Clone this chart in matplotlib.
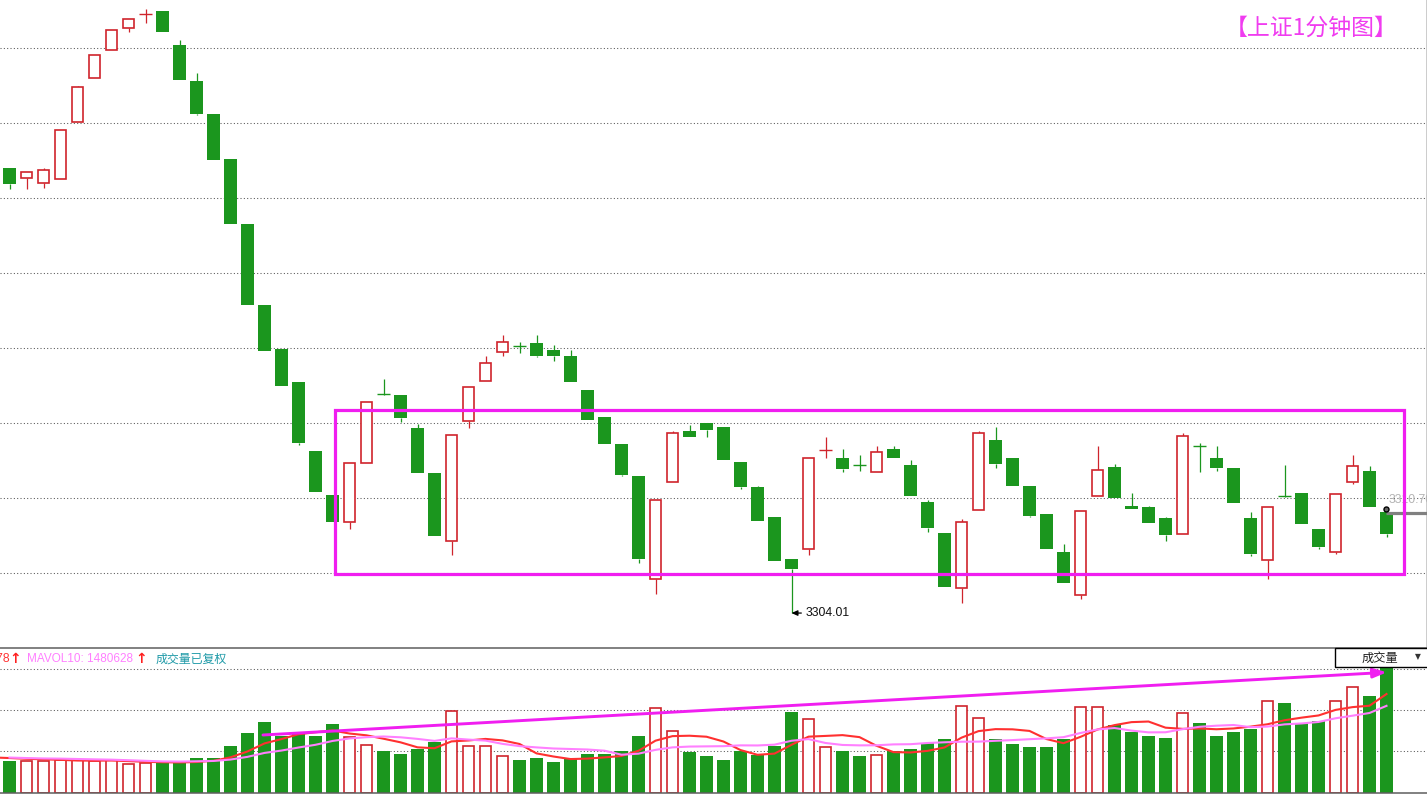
import matplotlib
matplotlib.use('Agg')
import matplotlib.pyplot as plt
import numpy as np
import pandas as pd
from matplotlib.patches import Rectangle

# ---------------- data ----------------
opens = [
    3333.68, 3333.01, 3332.68, 3332.95, 3336.75, 3339.68, 3341.55, 3343.01, 3343.95, 3344.15,
    3341.88, 3339.48, 3337.28, 3334.28, 3329.95, 3324.55, 3321.61, 3319.41, 3314.81, 3311.88,
    3310.08, 3314.01, 3318.61, 3318.55, 3316.35, 3313.35, 3308.81, 3316.81, 3319.48, 3321.41,
    3321.81, 3322.01, 3321.55, 3321.15, 3318.88, 3317.08, 3315.28, 3313.15, 3306.28, 3312.75,
    3316.15, 3316.68, 3316.41, 3314.08, 3312.41, 3310.41, 3307.61, 3308.28, 3314.88, 3314.35,
    3313.88, 3313.41, 3314.95, 3313.88, 3311.41, 3309.35, 3305.68, 3310.88, 3315.55, 3314.35,
    3312.48, 3310.61, 3308.08, 3305.21, 3311.81, 3313.75, 3311.15, 3311.08, 3310.35, 3309.28,
    3315.15, 3314.35, 3313.68, 3310.35, 3307.55, 3311.81, 3312.01, 3309.61, 3308.08, 3312.75,
    3313.48, 3310.75]
highs = [
    3333.68, 3333.41, 3333.68, 3336.21, 3339.15, 3341.21, 3342.88, 3343.61, 3344.28, 3344.15,
    3342.21, 3340.01, 3337.28, 3334.28, 3329.95, 3324.55, 3321.61, 3319.41, 3314.81, 3311.88,
    3314.01, 3318.08, 3319.61, 3318.55, 3316.61, 3313.35, 3315.88, 3319.08, 3321.15, 3322.55,
    3322.08, 3322.55, 3321.88, 3321.55, 3318.88, 3317.08, 3315.28, 3313.15, 3311.55, 3316.15,
    3316.55, 3316.68, 3316.41, 3314.08, 3312.48, 3310.41, 3307.61, 3314.35, 3315.75, 3314.95,
    3314.55, 3315.15, 3315.15, 3314.21, 3311.55, 3309.35, 3310.28, 3316.15, 3316.41, 3314.35,
    3312.48, 3310.61, 3308.61, 3310.81, 3315.15, 3313.95, 3312.01, 3311.15, 3310.41, 3316.01,
    3315.35, 3315.15, 3313.68, 3310.75, 3311.08, 3313.88, 3312.01, 3309.61, 3311.95, 3314.55,
    3313.81, 3310.75]
lows = [
    3332.28, 3332.28, 3332.35, 3332.95, 3336.75, 3339.68, 3341.55, 3342.75, 3343.35, 3342.75,
    3339.55, 3337.21, 3334.21, 3329.95, 3324.55, 3321.48, 3319.15, 3315.21, 3312.08, 3310.08,
    3309.61, 3314.01, 3318.58, 3316.75, 3313.35, 3309.15, 3307.88, 3316.35, 3319.48, 3321.15,
    3321.35, 3321.08, 3320.81, 3319.41, 3316.88, 3315.28, 3313.15, 3307.35, 3305.28, 3312.75,
    3315.75, 3315.75, 3314.21, 3312.28, 3310.15, 3307.48, 3304.01, 3307.88, 3314.35, 3313.41,
    3313.48, 3313.41, 3314.35, 3311.81, 3309.41, 3305.75, 3304.68, 3310.88, 3313.68, 3312.48,
    3310.41, 3308.28, 3306.01, 3304.95, 3311.81, 3311.68, 3310.95, 3310.01, 3308.81, 3309.28,
    3313.41, 3313.48, 3311.35, 3307.81, 3306.28, 3311.78, 3309.95, 3308.28, 3307.95, 3312.61,
    3311.08, 3309.08]
closes = [
    3332.61, 3333.41, 3333.55, 3336.21, 3339.08, 3341.21, 3342.88, 3343.61, 3343.95, 3342.75,
    3339.55, 3337.28, 3334.21, 3329.95, 3324.55, 3321.48, 3319.15, 3315.35, 3312.08, 3310.08,
    3314.01, 3318.08, 3318.59, 3317.01, 3313.35, 3309.15, 3315.88, 3319.08, 3320.68, 3322.08,
    3321.79, 3321.15, 3321.15, 3319.41, 3316.88, 3315.28, 3313.21, 3307.61, 3311.55, 3316.01,
    3315.75, 3316.21, 3314.21, 3312.41, 3310.15, 3307.48, 3306.95, 3314.35, 3314.88, 3313.61,
    3313.86, 3314.75, 3314.35, 3311.81, 3309.68, 3305.75, 3310.08, 3316.01, 3313.95, 3312.48,
    3310.48, 3308.28, 3306.01, 3310.81, 3313.55, 3311.68, 3310.97, 3310.01, 3309.21, 3315.81,
    3315.13, 3313.68, 3311.35, 3307.95, 3311.08, 3311.79, 3309.95, 3308.41, 3311.95, 3313.81,
    3311.08, 3309.28]
volumes = [
    555600, 555400, 545200, 567800, 567500, 545100, 567700, 493600, 510800, 528100,
    527900, 602300, 601800, 808400, 1032000, 1221200, 975200, 1014800, 980400, 1186800,
    958000, 820400, 722400, 670800, 756800, 877200, 1410400, 803200, 803500, 631200,
    567600, 602000, 533200, 584800, 670800, 670500, 722400, 980400, 1456800, 1061200,
    705200, 636400, 567600, 722700, 653600, 808400, 1393200, 1267600, 786000, 722400,
    636400, 648400, 722100, 756800, 860000, 928800, 1491200, 1284800, 928500, 842800,
    791200, 791500, 928800, 1474000, 1473600, 1169600, 1049200, 980400, 946000, 1370800,
    1204000, 980400, 1049200, 1100800, 1577200, 1548000, 1204300, 1238400, 1577000, 1818000,
    1668400, 2211900]
prev_volumes = [640000, 615000, 598000, 632000, 606000, 621000, 590000, 612000, 628000]

price_grid = [3306.68, 3311.68, 3316.68, 3321.68, 3326.68, 3331.68, 3336.68, 3341.68]
vol_grid = [717000, 1422000, 2127000]

title_text = "【上证1分钟图】"
low_label = "3304.01"
last_price = 3310.70
last_price_label = "3310.70"
mavol5_text = "MAVOL5: 1702878"
mavol10_text = "MAVOL10: 1480628"
restored_text = "成交量已复权"
panel_button = "成交量"

# ---------------- layout ----------------
W, H = 1427, 795
PRICE_TOP = 3344.88
PX_PER_POINT = 15.0
VOL_PER_PX = 17200.0
CANDLE_X0 = 9.5
CANDLE_STEP = 17.0

RED = '#cf242c'
GREEN = '#1b961e'
MAGENTA = '#f01ef0'
GRID = '#555555'

fig = plt.figure(figsize=(W / 100, H / 100), dpi=100)
fig.patch.set_facecolor('white')


def fx(px):
    return px / W


def fy(py):
    return 1 - py / H


ax = fig.add_axes([0, fy(648), 1, 648 / H])
axv = fig.add_axes([0, fy(793), 1, 145 / H])

xlim = (-CANDLE_X0 / CANDLE_STEP, (W - CANDLE_X0) / CANDLE_STEP)
for a in (ax, axv):
    a.set_xlim(*xlim)
    a.set_xticks([])
    a.set_yticks([])
    a.set_facecolor('white')
    for s in a.spines.values():
        s.set_visible(False)
ax.set_ylim(PRICE_TOP - 648 / PX_PER_POINT, PRICE_TOP)
axv.set_ylim(0, 145 * VOL_PER_PX)

ax.spines['right'].set_visible(True)
ax.spines['right'].set_color('black')
ax.spines['right'].set_linewidth(1.0)
for side in ('top', 'bottom'):
    axv.spines[side].set_visible(True)
    axv.spines[side].set_color('#5e5e5e')
    axv.spines[side].set_linewidth(1.1)

# grids
for g in price_grid:
    ax.axhline(g, color=GRID, lw=0.75, dashes=(1, 2.2), zorder=0.5)
for g in vol_grid:
    axv.axhline(g, color=GRID, lw=0.75, dashes=(1, 2.2), zorder=0.5)

# candles
for i, (o, h, l, c) in enumerate(zip(opens, highs, lows, closes)):
    up = c >= o
    col = RED if up else GREEN
    top, bot = max(o, c), min(o, c)
    if h > top:
        ax.vlines(i, top, h, colors=col, lw=0.9, zorder=2)
    if l < bot:
        ax.vlines(i, l, bot, colors=col, lw=0.9, zorder=2)
    if top - bot < 0.05:
        ax.hlines(o, i - 0.39, i + 0.39, colors=col, lw=1.0, zorder=3)
    elif up:
        ax.add_patch(Rectangle((i - 0.35, bot), 0.70, top - bot, facecolor='white',
                               edgecolor=RED, lw=1.2, zorder=3))
    else:
        ax.add_patch(Rectangle((i - 0.385, bot), 0.77, top - bot, facecolor=GREEN,
                               edgecolor='none', zorder=3))

# support / range box
box_x0, box_x1 = 19.12, 82.0
box_lo, box_hi = 3306.59, 3317.53
ax.add_patch(Rectangle((box_x0, box_lo), box_x1 - box_x0, box_hi - box_lo, fill=False,
                       edgecolor=MAGENTA, lw=2.3, zorder=6))

# low annotation
low_i = int(np.argmin(lows))
ax.annotate(low_label, xy=(low_i, lows[low_i]), xytext=(14, 0), textcoords='offset pixels',
            ha='left', va='center', fontsize=8.8, family=['Liberation Sans', 'DejaVu Sans'],
            color='#111111',
            arrowprops=dict(arrowstyle='-|>,head_length=0.4,head_width=0.18', color='black',
                            lw=0.9, shrinkA=1, shrinkB=0), zorder=7)

# last price marker
last_x0 = 80.97
ax.hlines(last_price, last_x0, xlim[1], colors='#808080', lw=2.3, zorder=4)
ax.plot([last_x0], [last_price + 0.25], marker='o', ms=3.6, mfc='#666666', mec='black',
        mew=1.0, zorder=5)
ax.text(last_x0 + 0.18, last_price + 0.85, last_price_label, ha='left', va='center',
        fontsize=8.8, color='#b4b4b4', family=['Liberation Sans', 'DejaVu Sans'], zorder=4,
        clip_on=True)

# volume bars
for i, v in enumerate(volumes):
    up = closes[i] >= opens[i]
    if up:
        axv.add_patch(Rectangle((i - 0.35, 0), 0.70, v, facecolor='white', edgecolor=RED,
                                lw=1.2, zorder=2))
    else:
        axv.add_patch(Rectangle((i - 0.385, 0), 0.77, v, facecolor=GREEN, edgecolor='none',
                                zorder=2))

all_vol = pd.Series(prev_volumes + volumes, dtype=float)
xs = np.arange(-len(prev_volumes), len(volumes))
ma5 = all_vol.rolling(5).mean()
ma10 = all_vol.rolling(10).mean()
axv.plot(xs, ma5, color='#ff3030', lw=1.5, zorder=4)
axv.plot(xs, ma10, color='#ff80ff', lw=1.5, zorder=4)

# trend arrow on volume
axv.annotate('', xy=(81.03, 2076000), xytext=(14.91, 997600),
             arrowprops=dict(arrowstyle='-|>,head_length=0.8,head_width=0.28',
                             color=MAGENTA, lw=2.1, mutation_scale=10,
                             shrinkA=0, shrinkB=0), zorder=6)

# title
fig.text(fx(1398), fy(28), title_text, ha='right', va='center', fontsize=16.5,
         color='#f03cf0', family=['Noto Sans CJK SC', 'DejaVu Sans'])

# volume legend
lab_y = fy(659)
fam = ['Liberation Sans', 'Noto Sans CJK SC', 'DejaVu Sans']
fig.text(fx(9.5), lab_y, mavol5_text, ha='right', va='center', fontsize=8.7,
         color='#ff3333', family=fam)
fig.text(fx(15.5), lab_y, '↑', ha='center', va='center', fontsize=10, fontweight='bold',
         color='#ff2020', family=['DejaVu Sans'])
fig.text(fx(27.3), lab_y, mavol10_text, ha='left', va='center', fontsize=8.5,
         color='#ff80ff', family=fam)
fig.text(fx(141.5), lab_y, '↑', ha='center', va='center', fontsize=10, fontweight='bold',
         color='#ff2020', family=['DejaVu Sans'])
fig.text(fx(156), lab_y, restored_text, ha='left', va='center', fontsize=8.6,
         color='#1f9aa8', family=['Noto Sans CJK SC', 'DejaVu Sans'])

# panel selector button
btn = Rectangle((fx(1334.5), fy(667)), fx(1430) - fx(1334.5), fy(648) - fy(667),
                transform=fig.transFigure, facecolor='white', edgecolor='black', lw=1.0,
                zorder=10)
fig.add_artist(btn)
fig.text(fx(1380), fy(658), panel_button, ha='center', va='center', fontsize=8.8,
         color='#222222', family=['Noto Sans CJK SC', 'DejaVu Sans'], zorder=11)
fig.text(fx(1418), fy(657), '▼', ha='center', va='center', fontsize=5.5,
         color='#333333', family=['DejaVu Sans'], zorder=11)

fig.savefig('out.png', dpi=100, facecolor='white')
